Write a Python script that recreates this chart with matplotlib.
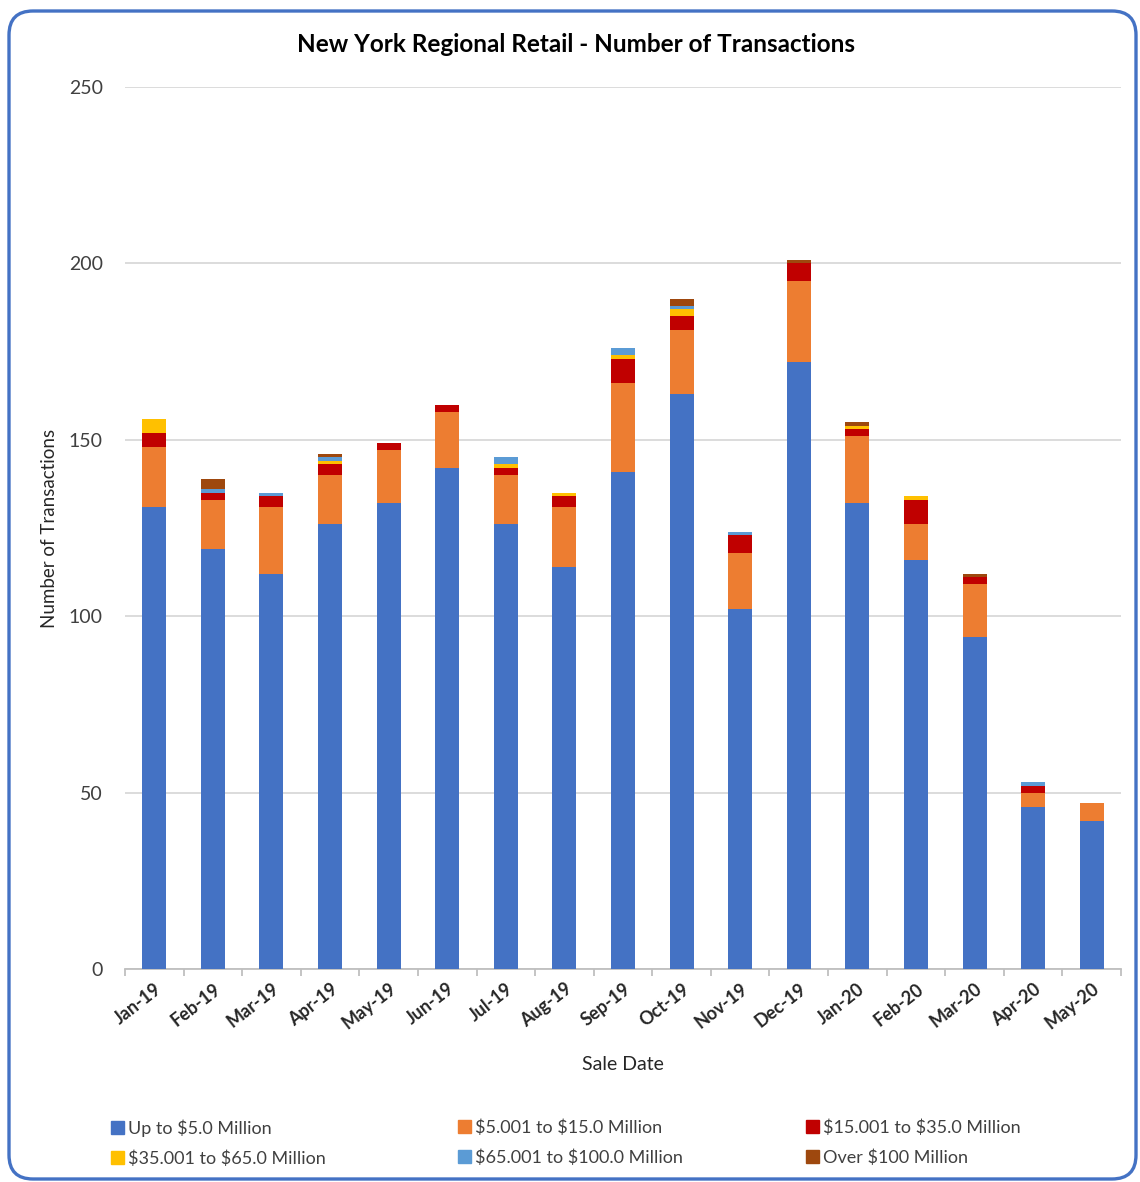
import matplotlib
matplotlib.use("Agg")
import matplotlib.pyplot as plt
from matplotlib.patches import FancyBboxPatch, Patch
from matplotlib.transforms import IdentityTransform
import numpy as np

plt.rcParams['font.family'] = ['Lato', 'DejaVu Sans']
plt.rcParams['text.parse_math'] = False

months = ["Jan-19", "Feb-19", "Mar-19", "Apr-19", "May-19", "Jun-19", "Jul-19",
          "Aug-19", "Sep-19", "Oct-19", "Nov-19", "Dec-19", "Jan-20", "Feb-20",
          "Mar-20", "Apr-20", "May-20"]

up_to_5 =   [131, 119, 112, 126, 132, 142, 126, 114, 141, 163, 102, 172, 132, 116, 94, 46, 42]
m5_15 =     [17, 14, 19, 14, 15, 16, 14, 17, 25, 18, 16, 23, 19, 10, 15, 4, 5]
m15_35 =    [4, 2, 3, 3, 2, 2, 2, 3, 7, 4, 5, 5, 2, 7, 2, 2, 0]
m35_65 =    [4, 0, 0, 1, 0, 0, 1, 1, 1, 2, 0, 0, 1, 1, 0, 0, 0]
m65_100 =   [0, 1, 1, 1, 0, 0, 2, 0, 2, 1, 1, 0, 0, 0, 0, 1, 0]
over_100 =  [0, 3, 0, 1, 0, 0, 0, 0, 0, 2, 0, 1, 1, 0, 1, 0, 0]

labels = ["Up to $5.0 Million", "$5.001 to $15.0 Million", "$15.001 to $35.0 Million",
          "$35.001 to $65.0 Million", "$65.001 to $100.0 Million", "Over $100 Million"]
colors = ["#4472C4", "#ED7D31", "#C00000", "#FFC000", "#5B9BD5", "#9E480E"]
series = [up_to_5, m5_15, m15_35, m35_65, m65_100, over_100]

fig = plt.figure(figsize=(11.4, 11.82), dpi=100)
ax = fig.add_axes([125/1140, 213/1182, 996/1140, 882/1182])

x = np.arange(len(months))
bottom = np.zeros(len(months))
handles = []
for vals, lab, c in zip(series, labels, colors):
    ax.bar(x, vals, 0.41, bottom=bottom, color=c, label=lab, zorder=3)
    bottom += np.array(vals)
    handles.append(Patch(color=c, label=lab))

ax.set_xlim(-0.5, len(months) - 0.5)
ax.set_ylim(0, 250)
ax.set_yticks([0, 50, 100, 150, 200, 250])
ax.grid(axis='y', color='#D9D9D9', linewidth=1.3, zorder=0)
for s in ['top', 'right', 'left']:
    ax.spines[s].set_visible(False)
ax.spines['bottom'].set_color('#BFBFBF')
ax.spines['bottom'].set_linewidth(1.3)
ax.tick_params(axis='y', length=0, pad=16, labelsize=14, labelcolor='#404040')
ax.set_xticks(x)
ax.set_xticks(np.arange(-0.5, len(months)), minor=True)
ax.tick_params(axis='x', which='major', length=0, pad=8)
ax.tick_params(axis='x', which='minor', length=5, color='#BFBFBF', width=1.3)
ax.set_xticklabels(months, rotation=38, ha='right', rotation_mode='anchor',
                   fontsize=13, fontweight='bold', color='#262626')

ax.set_xlabel("Sale Date", fontsize=14, color='#262626', labelpad=17)
fig.text(50/1140, 1 - 528/1182, "Number of Transactions", rotation=90,
         ha='center', va='center', fontsize=13.5, color='#262626')
fig.text(576/1140, 1 - 44/1182, "New York Regional Retail - Number of Transactions",
         ha='center', va='center', fontsize=17.5, fontweight='bold', color='black')

cols = [(113, [0, 3]), (460, [1, 4]), (808, [2, 5])]
for xpos, idx in cols:
    fig.legend(handles=[handles[i] for i in idx], loc='upper left',
               bbox_to_anchor=(xpos/1140 - 0.016, 1 - 1103/1182), frameon=False,
               fontsize=13, handlelength=0.7, handleheight=0.7,
               handletextpad=0.25, labelspacing=0.75, labelcolor='#404040')

border = FancyBboxPatch((9, 3), 1127, 1168, boxstyle="round,pad=0,rounding_size=24",
                        transform=IdentityTransform(), facecolor='none',
                        edgecolor='#4472C4', linewidth=2.4)
fig.patches.append(border)

fig.savefig("out.png", dpi=100)
